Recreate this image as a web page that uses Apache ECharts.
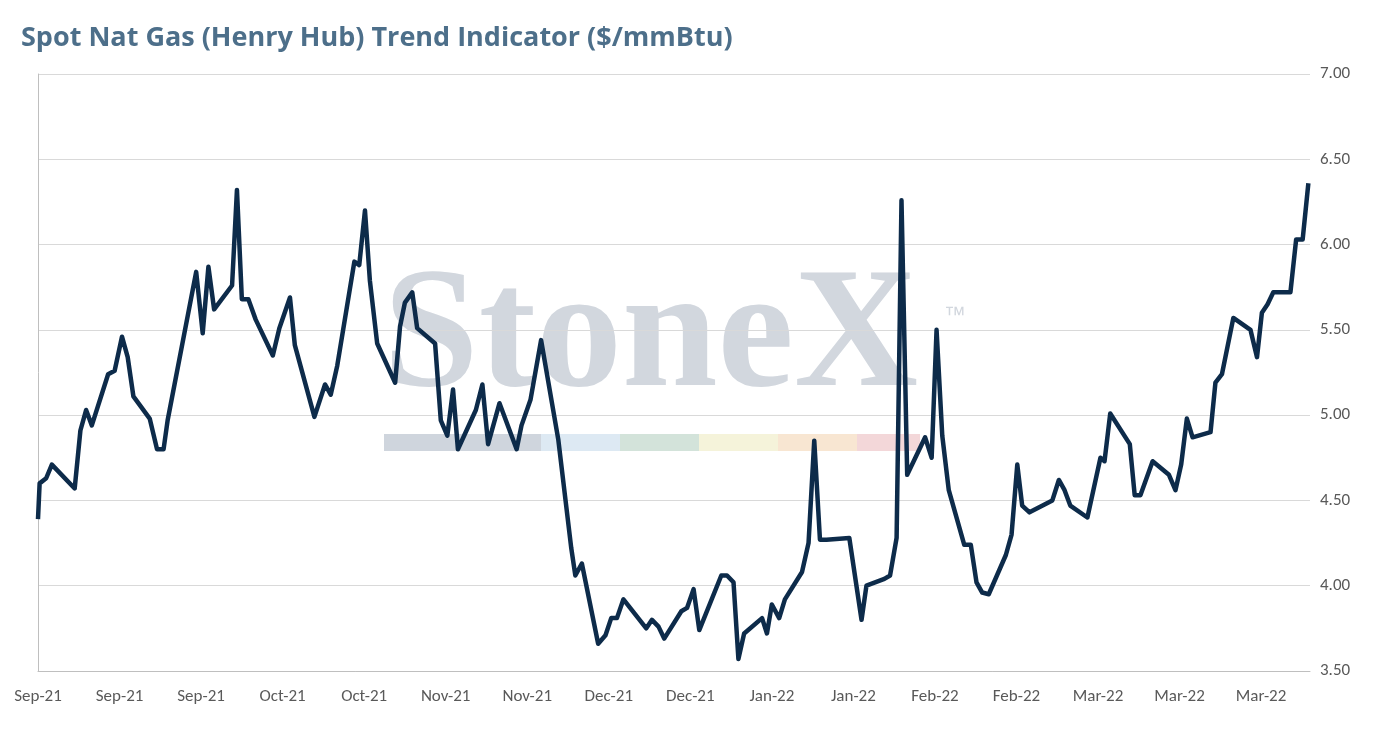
<!DOCTYPE html>
<html>
<head>
<meta charset="utf-8">
<script src="https://cdn.jsdelivr.net/npm/echarts@6/dist/echarts.min.js"></script>
<style>
  html, body { margin: 0; padding: 0; background: #fff; }
  #chart { width: 1393px; height: 729px; }
</style>
</head>
<body>
<div id="chart"></div>
<script>
// trading-day index, price ($/mmBtu)
const SERIES = [
  [0, 4.39], [0.2, 4.60], [1, 4.63], [1.7, 4.71], [4.5, 4.57], [5.2, 4.91], [5.9, 5.03],
  [6.6, 4.94], [8.6, 5.24], [9.4, 5.26], [10.3, 5.46], [11, 5.34], [11.7, 5.11], [13.7, 4.98],
  [14.6, 4.80], [15.4, 4.80], [15.9, 4.97], [19.4, 5.84], [20.2, 5.48], [20.9, 5.87], [21.6, 5.62],
  [23.8, 5.76], [24.4, 6.32], [25, 5.68], [25.8, 5.68], [26.7, 5.56], [28.8, 5.35], [29.6, 5.51],
  [30.9, 5.69], [31.5, 5.41], [33.9, 4.99], [35.2, 5.18], [35.9, 5.12], [36.7, 5.29], [38.8, 5.90],
  [39.4, 5.88], [40.1, 6.20], [40.7, 5.79], [41.6, 5.42], [43.8, 5.19], [44.4, 5.52], [45, 5.66],
  [45.9, 5.72], [46.5, 5.51], [48.7, 5.42], [49.4, 4.97], [50.2, 4.88], [50.9, 5.15], [51.5, 4.80],
  [53.7, 5.03], [54.5, 5.18], [55.2, 4.83], [56.6, 5.07], [58.7, 4.80], [59.3, 4.94], [60.4, 5.09],
  [61.7, 5.44], [63.8, 4.86], [65.4, 4.22], [65.9, 4.06], [66.7, 4.13], [68.7, 3.66], [69.6, 3.71],
  [70.3, 3.81], [71, 3.81], [71.8, 3.92], [74.6, 3.75], [75.3, 3.80], [76.1, 3.76], [76.8, 3.69],
  [78.9, 3.85], [79.6, 3.87], [80.4, 3.98], [81.1, 3.74], [83.8, 4.06], [84.5, 4.06], [85.3, 4.02],
  [85.9, 3.57], [86.6, 3.72], [88.8, 3.81], [89.4, 3.72], [90, 3.89], [90.9, 3.81], [91.6, 3.92],
  [93.7, 4.08], [94.5, 4.25], [95.2, 4.85], [95.9, 4.27], [96.7, 4.27], [99.5, 4.28], [101, 3.80],
  [101.6, 4.00], [103.8, 4.04], [104.5, 4.06], [105.3, 4.28], [105.9, 6.26], [106.6, 4.65],
  [108.8, 4.87], [109.6, 4.75], [110.2, 5.50], [110.9, 4.88], [111.7, 4.56], [113.6, 4.24],
  [114.4, 4.24], [115.1, 4.02], [115.8, 3.96], [116.6, 3.95], [118.7, 4.18], [119.4, 4.30],
  [120.1, 4.71], [120.7, 4.47], [121.6, 4.43], [124.4, 4.50], [125.2, 4.62], [125.9, 4.56],
  [126.6, 4.47], [128.7, 4.40], [130.3, 4.75], [130.8, 4.73], [131.5, 5.01], [133.9, 4.83],
  [134.5, 4.53], [135.2, 4.53], [136.7, 4.73], [138.7, 4.65], [139.5, 4.56], [140.2, 4.71],
  [140.9, 4.98], [141.6, 4.87], [143.8, 4.90], [144.4, 5.19], [145.2, 5.24], [146.6, 5.57],
  [148.7, 5.50], [149.5, 5.34], [150.1, 5.60], [150.8, 5.65], [151.5, 5.72], [153.6, 5.72],
  [154.3, 6.03], [155.1, 6.03], [155.8, 6.36]
];

const X_LABELS = ["Sep-21", "Sep-21", "Sep-21", "Oct-21", "Oct-21", "Nov-21", "Nov-21", "Dec-21",
  "Dec-21", "Jan-22", "Jan-22", "Feb-22", "Feb-22", "Mar-22", "Mar-22", "Mar-22"];

// watermark colour band: [colour, width]
const STRIPES = [["#cfd5dd", 157], ["#dde9f3", 79], ["#d3e3da", 79], ["#f5f3da", 79],
  ["#f8e6d2", 79], ["#f3d7d9", 63]];

const chart = echarts.init(document.getElementById("chart"));
let stripeX = 384;
const stripeRects = STRIPES.map(([c, w]) => {
  const r = { type: "rect", z: 0, shape: { x: stripeX, y: 434, width: w, height: 17 }, style: { fill: c } };
  stripeX += w;
  return r;
});

chart.setOption({
  animation: false,
  title: {
    text: "Spot Nat Gas (Henry Hub) Trend Indicator ($/mmBtu)",
    left: 16, top: 20,
    textStyle: { color: "#4d6f8a", fontSize: 27, fontWeight: "bold", fontFamily: "Open Sans" }
  },
  graphic: [
    {
      type: "text", left: 383, top: 255, z: 0,
      style: { text: "StoneX", fill: "#d2d7de", font: "bold 172px 'Liberation Serif'" }
    },
    {
      type: "text", left: 944, top: 305, z: 0,
      style: { text: "™", fill: "#d2d7de", font: "22px 'Liberation Sans'" }
    },
    ...stripeRects
  ],
  grid: { left: 38, right: 83, top: 74, bottom: 58 },
  xAxis: {
    type: "value", min: 0, max: 156, interval: 10,
    axisLine: { show: true, lineStyle: { color: "#bfbfbf" } },
    axisTick: { show: false },
    splitLine: { show: false },
    axisLabel: {
      color: "#595959", fontSize: 17, fontFamily: "Carlito, Calibri, 'Liberation Sans'", margin: 17,
      formatter: v => X_LABELS[Math.round(v / 10)] || ""
    }
  },
  yAxis: {
    type: "value", position: "right", min: 3.5, max: 7, interval: 0.5,
    axisLine: { show: true, lineStyle: { color: "#bfbfbf" } },
    axisTick: { show: false },
    splitLine: { lineStyle: { color: "#d9d9d9" } },
    axisLabel: {
      color: "#595959", fontSize: 17, fontFamily: "Carlito, Calibri, 'Liberation Sans'", margin: 10,
      formatter: v => v.toFixed(2)
    }
  },
  series: [{
    type: "line", data: SERIES, showSymbol: false, z: 5,
    lineStyle: { color: "#0d2b4a", width: 4.5, join: "round" }
  }]
});
</script>
</body>
</html>
